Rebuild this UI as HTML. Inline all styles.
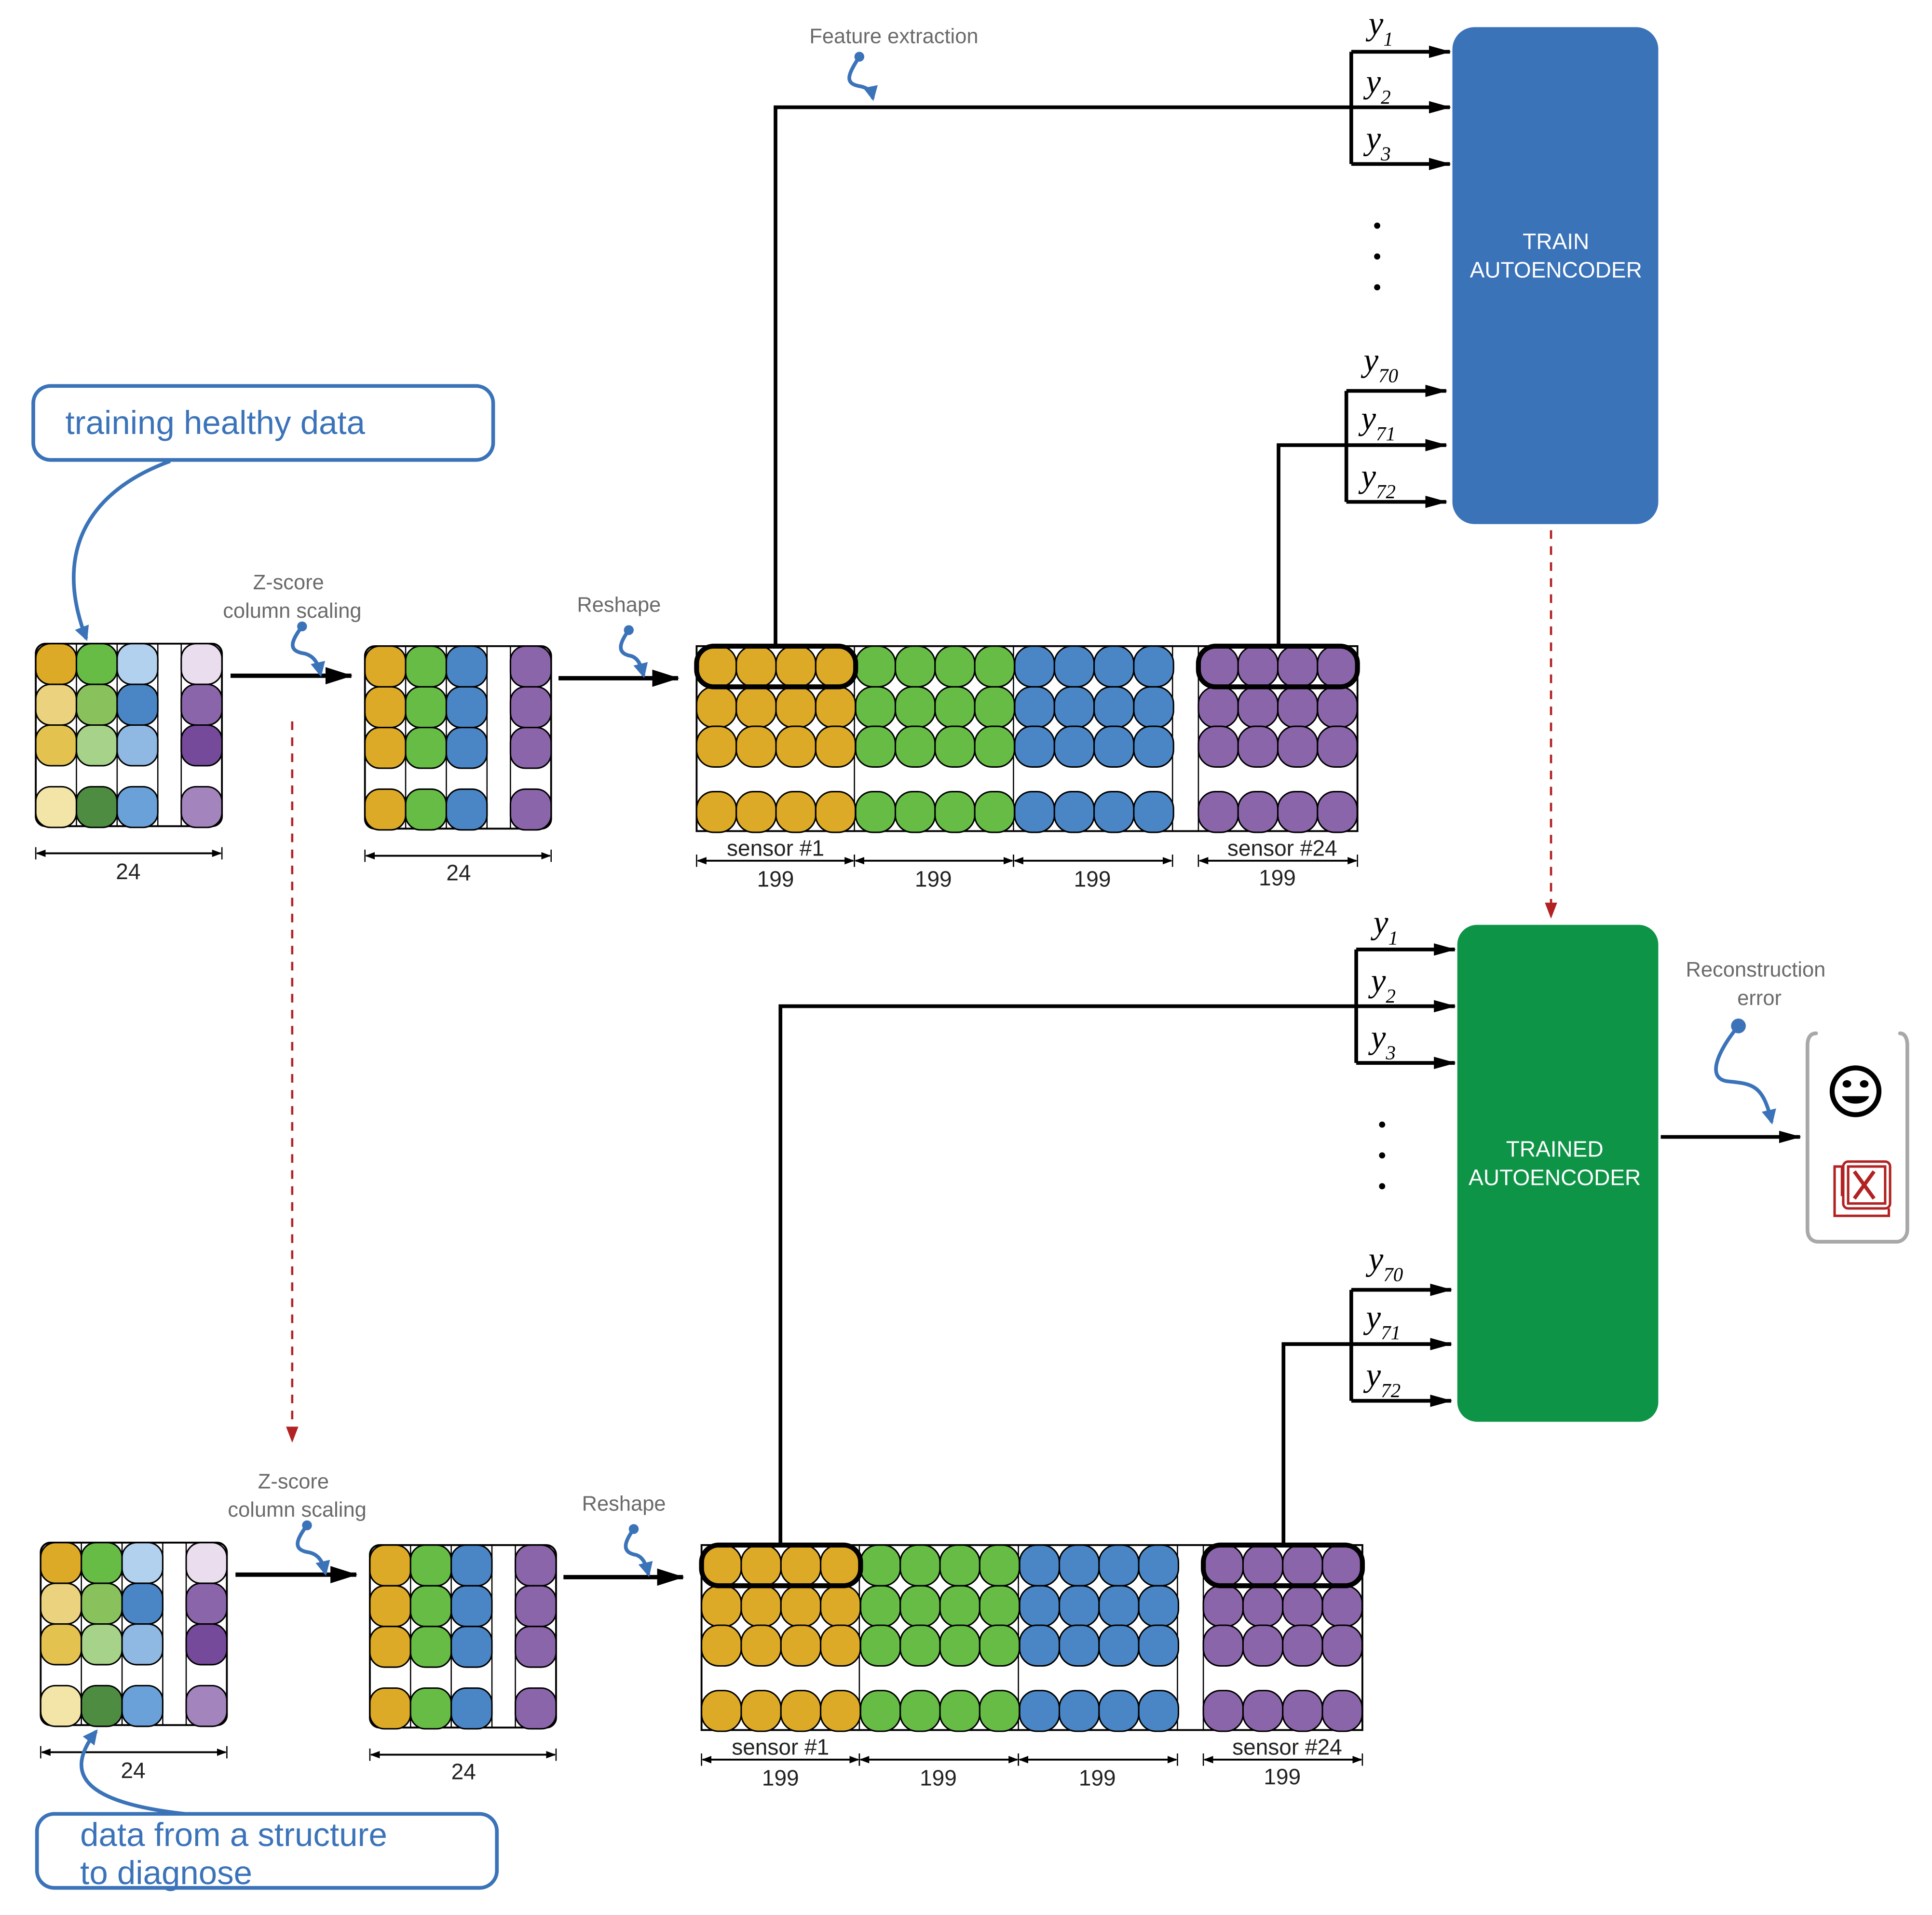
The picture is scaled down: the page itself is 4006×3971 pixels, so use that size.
<!DOCTYPE html>
<html><head><meta charset="utf-8"><style>
html,body{margin:0;padding:0;background:#fff;}
svg{display:block;}
text{font-family:"Liberation Sans",sans-serif;}
.g{fill:#6a6a6a;font-size:17px;}
.n{fill:#222;font-size:18px;}
.y{font-family:"Liberation Serif",serif;font-style:italic;font-size:27px;fill:#000;}
.ys{font-family:"Liberation Serif",serif;font-style:italic;font-size:16px;fill:#000;}
.w{fill:#fff;font-size:18px;}
.b{fill:#3B73B9;font-size:27px;}
</style></head><body>
<svg id="s" xmlns="http://www.w3.org/2000/svg" width="4006" height="3971" viewBox="0 0 1567 1553" preserveAspectRatio="none">
<defs>
<marker id="ahb" markerWidth="22" markerHeight="14" refX="21" refY="7" orient="auto" markerUnits="userSpaceOnUse"><path d="M0,0L22,7L0,14z" fill="#000"/></marker>
<marker id="ahs" markerWidth="18" markerHeight="10" refX="17" refY="5" orient="auto" markerUnits="userSpaceOnUse"><path d="M0,0L18,5L0,10z" fill="#000"/></marker>
<marker id="ahbl" markerWidth="12" markerHeight="12" refX="10" refY="6" orient="auto" markerUnits="userSpaceOnUse"><path d="M0,0L12,6L0,12z" fill="#3B73B9"/></marker>
<marker id="dim" markerWidth="8" markerHeight="6" refX="7" refY="3" orient="auto-start-reverse" markerUnits="userSpaceOnUse"><path d="M0,0L8,3L0,6z" fill="#000"/></marker>
</defs>
<g id="gen"></g>

<text class="g" x="725" y="35" text-anchor="middle">Feature extraction</text>
<text class="g" x="234" y="478" text-anchor="middle">Z-score</text>
<text class="g" x="237" y="501" text-anchor="middle">column scaling</text>
<text class="g" x="502" y="496" text-anchor="middle">Reshape</text>
<text class="n" x="104" y="713" text-anchor="middle">24</text>
<text class="n" x="372" y="714" text-anchor="middle">24</text>
<text class="n" x="629" y="694" text-anchor="middle">sensor #1</text>
<text class="n" x="1040" y="694" text-anchor="middle">sensor #24</text>
<text class="n" x="629" y="719" text-anchor="middle">199</text>
<text class="n" x="757" y="719" text-anchor="middle">199</text>
<text class="n" x="886" y="719" text-anchor="middle">199</text>
<text class="n" x="1036" y="718" text-anchor="middle">199</text>

<text class="g" x="238" y="1207" text-anchor="middle">Z-score</text>
<text class="g" x="241" y="1230" text-anchor="middle">column scaling</text>
<text class="g" x="506" y="1225" text-anchor="middle">Reshape</text>
<text class="n" x="108" y="1442" text-anchor="middle">24</text>
<text class="n" x="376" y="1443" text-anchor="middle">24</text>
<text class="n" x="633" y="1423" text-anchor="middle">sensor #1</text>
<text class="n" x="1044" y="1423" text-anchor="middle">sensor #24</text>
<text class="n" x="633" y="1448" text-anchor="middle">199</text>
<text class="n" x="761" y="1448" text-anchor="middle">199</text>
<text class="n" x="890" y="1448" text-anchor="middle">199</text>
<text class="n" x="1040" y="1447" text-anchor="middle">199</text>

<rect x="1178" y="22" width="167" height="403" rx="18" fill="#3B73B9"/>
<text class="w" x="1262" y="202" text-anchor="middle">TRAIN</text>
<text class="w" x="1262" y="225" text-anchor="middle">AUTOENCODER</text>
<rect x="1182" y="750" width="163" height="403" rx="16" fill="#0E9447"/>
<text class="w" x="1261" y="938" text-anchor="middle">TRAINED</text>
<text class="w" x="1261" y="961" text-anchor="middle">AUTOENCODER</text>

<g>
<text class="y" x="1110" y="28">y</text><text class="ys" x="1122" y="37">1</text>
<text class="y" x="1108" y="75">y</text><text class="ys" x="1120" y="84">2</text>
<text class="y" x="1108" y="121">y</text><text class="ys" x="1120" y="130">3</text>
<text class="y" x="1106" y="301">y</text><text class="ys" x="1118" y="310">70</text>
<text class="y" x="1104" y="348">y</text><text class="ys" x="1116" y="357">71</text>
<text class="y" x="1104" y="395">y</text><text class="ys" x="1116" y="404">72</text>
</g>
<g>
<text class="y" x="1114" y="757">y</text><text class="ys" x="1126" y="766">1</text>
<text class="y" x="1112" y="804">y</text><text class="ys" x="1124" y="813">2</text>
<text class="y" x="1112" y="850">y</text><text class="ys" x="1124" y="859">3</text>
<text class="y" x="1110" y="1030">y</text><text class="ys" x="1122" y="1039">70</text>
<text class="y" x="1108" y="1077">y</text><text class="ys" x="1120" y="1086">71</text>
<text class="y" x="1108" y="1124">y</text><text class="ys" x="1120" y="1133">72</text>
</g>
<g fill="#000">
<circle cx="1117" cy="183" r="2.5"/><circle cx="1117" cy="208" r="2.5"/><circle cx="1117" cy="233" r="2.5"/>
<circle cx="1121" cy="912" r="2.5"/><circle cx="1121" cy="937" r="2.5"/><circle cx="1121" cy="962" r="2.5"/>
</g>

<g fill="none" stroke="#000" stroke-width="3">
<path d="M629,524V87H1176" marker-end="url(#ahs)"/>
<path d="M1096,42V133"/>
<line x1="1096" y1="42" x2="1176" y2="42" marker-end="url(#ahs)"/>
<line x1="1096" y1="133" x2="1176" y2="133" marker-end="url(#ahs)"/>
<path d="M1037,524V361H1173" marker-end="url(#ahs)"/>
<path d="M1092,317V407"/>
<line x1="1092" y1="317" x2="1173" y2="317" marker-end="url(#ahs)"/>
<line x1="1092" y1="407" x2="1173" y2="407" marker-end="url(#ahs)"/>

<path d="M633,1253V816H1180" marker-end="url(#ahs)"/>
<path d="M1100,770V862"/>
<line x1="1100" y1="770" x2="1180" y2="770" marker-end="url(#ahs)"/>
<line x1="1100" y1="862" x2="1180" y2="862" marker-end="url(#ahs)"/>
<path d="M1041,1253V1090H1177" marker-end="url(#ahs)"/>
<path d="M1096,1046V1136"/>
<line x1="1096" y1="1046" x2="1177" y2="1046" marker-end="url(#ahs)"/>
<line x1="1096" y1="1136" x2="1177" y2="1136" marker-end="url(#ahs)"/>

<line x1="187" y1="548" x2="285" y2="548" stroke-width="3.5" marker-end="url(#ahb)"/>
<line x1="453" y1="550" x2="550" y2="550" stroke-width="3.5" marker-end="url(#ahb)"/>
<line x1="191" y1="1277" x2="289" y2="1277" stroke-width="3.5" marker-end="url(#ahb)"/>
<line x1="457" y1="1279" x2="554" y2="1279" stroke-width="3.5" marker-end="url(#ahb)"/>
<line x1="1347" y1="922" x2="1460" y2="922" marker-end="url(#ahs)"/>
</g>

<g stroke="#b22222" stroke-width="1.8" stroke-dasharray="7,6" fill="none">
<line x1="1258" y1="430" x2="1258" y2="735"/>
<line x1="237" y1="585" x2="237" y2="1160"/>
</g>
<path d="M1253,732L1263,732L1258,745z" fill="#b22222"/>
<path d="M232,1157L242,1157L237,1170z" fill="#b22222"/>

<g fill="none" stroke="#3B73B9" stroke-width="3">
<path d="M697,46C688,60 684,68 698,70C706,72 707,75 708,80" marker-end="url(#ahbl)"/>
<path d="M245,508C236,520 233,528 247,530C255,532 258,538 260,547" marker-end="url(#ahbl)"/>
<path d="M510,511C502,522 500,530 512,532C518,534 520,540 522,548" marker-end="url(#ahbl)"/>
<path d="M249,1237C240,1249 237,1257 251,1259C259,1261 262,1267 264,1276" marker-end="url(#ahbl)"/>
<path d="M514,1240C506,1251 504,1259 516,1261C522,1263 524,1269 526,1277" marker-end="url(#ahbl)"/>
<path d="M1410,832C1395,850 1382,875 1402,877C1422,879 1430,880 1437,910" marker-end="url(#ahbl)"/>
<path d="M138,374C80,395 40,440 70,518" marker-end="url(#ahbl)"/>
<path d="M150,1471C70,1462 50,1440 78,1404" marker-end="url(#ahbl)"/>
</g>
<g fill="#3B73B9">
<circle cx="697" cy="46" r="4"/><circle cx="245" cy="508" r="4"/><circle cx="510" cy="511" r="4"/>
<circle cx="249" cy="1237" r="4"/><circle cx="514" cy="1240" r="4"/><circle cx="1410" cy="832" r="6"/>
</g>

<rect x="27" y="313" width="373" height="60" rx="14" fill="#fff" stroke="#3B73B9" stroke-width="3"/>
<text class="b" x="53" y="352">training healthy data</text>
<rect x="30" y="1471" width="373" height="60" rx="14" fill="#fff" stroke="#3B73B9" stroke-width="3"/>
<text class="b" x="65" y="1497">data from a structure</text>
<text class="b" x="65" y="1528">to diagnose</text>

<text class="g" x="1424" y="792" text-anchor="middle">Reconstruction</text>
<text class="g" x="1427" y="815" text-anchor="middle">error</text>
<path d="M1473,838C1468,838 1466,842 1466,848V997C1466,1003 1469,1007 1475,1007H1538C1543,1007 1547,1003 1547,997V848C1547,842 1545,838 1541,838" fill="none" stroke="#a8a8a8" stroke-width="3" stroke-linecap="round"/>
<circle cx="1505" cy="885" r="19" fill="none" stroke="#000" stroke-width="4"/>
<ellipse cx="1498" cy="879" rx="3.5" ry="3" fill="#000"/><ellipse cx="1512" cy="879" rx="3.5" ry="3" fill="#000"/>
<path d="M1494,889H1516C1514,897 1496,897 1494,889z" fill="#000"/>
<g fill="none" stroke="#b22222" stroke-width="2">
<path d="M1494,970V946H1488V986H1532V980"/>
<rect x="1495" y="942" width="38" height="38" rx="4"/>
<rect x="1499" y="946" width="30" height="30"/>
<path d="M1504,950L1520,972M1520,950L1504,972" stroke-width="3"/>
</g>
</svg>
<script>
(function(){
var NS="http://www.w3.org/2000/svg",g=document.getElementById("gen");
function el(t,a){var e=document.createElementNS(NS,t);for(var k in a)e.setAttribute(k,a[k]);g.appendChild(e);return e;}
function small(x0,y0,cols){
  var xs=[0,33,66,118],ys=[0,33,66,116],w=33,h=33;
  el("rect",{x:x0,y:y0,width:151,height:148,rx:8,fill:"#fff",stroke:"#000","stroke-width":1.5});
  [33,66,99,118].forEach(function(d){el("line",{x1:x0+d,y1:y0,x2:x0+d,y2:y0+148,stroke:"#000","stroke-width":1});});
  for(var c=0;c<4;c++)for(var r=0;r<4;r++){
    el("rect",{x:x0+xs[c],y:y0+ys[r],width:w,height:h,rx:12,fill:cols[c][r],stroke:"#000","stroke-width":1.2});
  }
}
var A=[["#DDAA27","#EAD27F","#E3C24F","#F3E4A8"],["#67BC46","#89C25D","#A6D28A","#4E8C42"],["#B2D1EE","#4A86C5","#8FB8E2","#6AA1D8"],["#EADDEE","#8B65A9","#754A9A","#A384BC"]];
var U=["#DDAA27","#67BC46","#4A86C5","#8B65A9"];
var B=U.map(function(c){return [c,c,c,c];});
small(29,522,A);small(296,524,B);small(33,1251,A);small(300,1253,B);
function big(x0,y0){
  var gx=[0,129,258,407],rys=[0,33,65,118];
  el("rect",{x:x0,y:y0,width:536,height:150,fill:"#fff",stroke:"#000","stroke-width":1.5});
  [128,257,386,407].forEach(function(d){el("line",{x1:x0+d,y1:y0,x2:x0+d,y2:y0+150,stroke:"#000","stroke-width":1});});
  for(var gi=0;gi<4;gi++)for(var c=0;c<4;c++)for(var r=0;r<4;r++){
    el("rect",{x:x0+gx[gi]+c*32.2,y:y0+rys[r],width:32.2,height:33,rx:14,fill:U[gi],stroke:"#000","stroke-width":1.2});
  }
  el("rect",{x:x0,y:y0,width:129,height:33,rx:14,fill:"none",stroke:"#000","stroke-width":4});
  el("rect",{x:x0+407,y:y0,width:129,height:33,rx:14,fill:"none",stroke:"#000","stroke-width":4});
}
big(565,524);big(569,1253);
function dim(x1,x2,y){
  el("line",{x1:x1,y1:y-5,x2:x1,y2:y+5,stroke:"#000","stroke-width":1});
  el("line",{x1:x2,y1:y-5,x2:x2,y2:y+5,stroke:"#000","stroke-width":1});
  el("line",{x1:x1+1,y1:y,x2:x2-1,y2:y,stroke:"#000","stroke-width":1.5,"marker-end":"url(#dim)","marker-start":"url(#dim)"});
}
dim(29,180,692);dim(296,447,694);dim(33,184,1421);dim(300,451,1423);
[[565,693],[693,822],[822,951],[972,1101]].forEach(function(p){dim(p[0],p[1],698);dim(p[0]+4,p[1]+4,1427);});
})();
</script>
</body></html>
